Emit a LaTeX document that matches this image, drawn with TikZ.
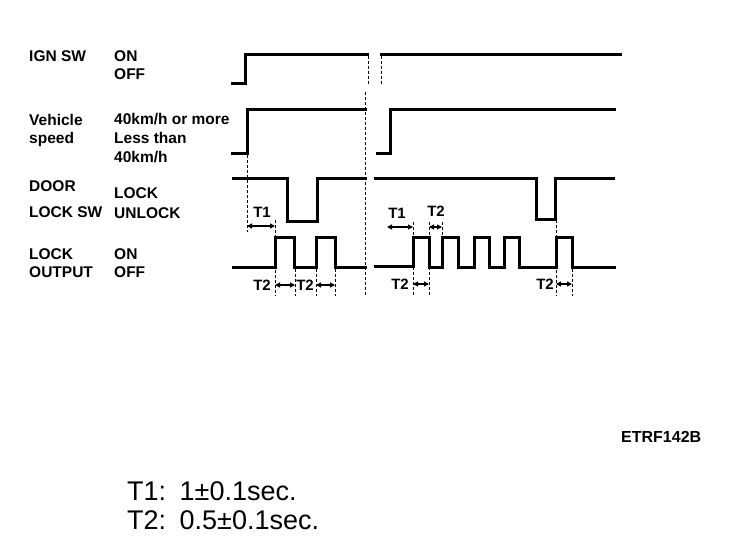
\documentclass[tikz,border=0pt]{standalone}
\usepackage{fontspec}
\setmainfont{Liberation Sans}
\usetikzlibrary{arrows.meta}
\begin{document}
\begin{tikzpicture}[x=1pt,y=-1pt,
  sig/.style={line width=3pt,line join=miter,line cap=rect},
  dotline/.style={line width=1pt,dash pattern=on 3pt off 2pt},
  tarrow/.style={line width=1.6pt,{Triangle[length=5pt,width=5pt]}-{Triangle[length=5pt,width=5pt]}},
  lbl/.style={anchor=west,inner sep=0pt,font=\fontsize{15.5}{17}\selectfont\bfseries},
  tl/.style={inner sep=0pt,font=\fontsize{15}{17}\selectfont\bfseries},
  note/.style={anchor=west,inner sep=0pt,font=\fontsize{27}{30}\selectfont}]
\useasboundingbox (0,0) rectangle (752,552);
% left labels
\node[lbl] (ign) at (29,56) {IGN SW};
\node[lbl] (ignon) at (114,56) {ON};
\node[lbl] (ignoff) at (114,74) {OFF};
\node[lbl] (veh) at (29,120) {Vehicle};
\node[lbl] (spd) at (29,139) {speed};
\node[lbl] (km1) at (114,119) {40km/h or more};
\node[lbl] (less) at (114,138) {Less than};
\node[lbl] (km2) at (114,157) {40km/h};
\node[lbl] (door) at (29,186) {DOOR};
\node[lbl] (locksw) at (29,212) {LOCK SW};
\node[lbl] (lock) at (114,193) {LOCK};
\node[lbl] (unlock) at (114,213) {UNLOCK};
\node[lbl] (lck) at (29,254) {LOCK};
\node[lbl] (outp) at (29,272) {OUTPUT};
\node[lbl] (outon) at (114,254) {ON};
\node[lbl] (outoff) at (114,272) {OFF};
% IGN SW
\draw[sig] (232,83) -- (245,83) -- (245,54) -- (367,54);
\draw[dotline] (368,56) -- (368,84);
\draw[dotline] (381,56) -- (381,84);
\draw[sig] (381,54) -- (620,54);
% Vehicle speed
\draw[sig] (232,153) -- (247,153) -- (247,109) -- (365,109);
\draw[sig] (377,153) -- (390,153) -- (390,109) -- (614,109);
% Door lock sw
\draw[sig] (233,178) -- (287,178) -- (287,221) -- (317,221) -- (317,178) -- (365,178);
\draw[sig] (375,178) -- (536,178) -- (536,219) -- (555,219) -- (555,178) -- (613,178);
% Lock output
\draw[sig] (233,267) -- (275,267) -- (275,237) -- (294,237) -- (294,267) -- (316,267)
  -- (316,237) -- (335,237) -- (335,267) -- (365,267);
\draw[sig] (375,266) -- (413,266) -- (413,237) -- (429,237) -- (429,267) -- (442,267)
  -- (442,237) -- (458,237) -- (458,267) -- (474,267) -- (474,237) -- (489,237)
  -- (489,267) -- (504,267) -- (504,237) -- (519,237) -- (519,267) -- (556,267)
  -- (556,237) -- (572,237) -- (572,267) -- (614,267);
% dotted guides
\draw[dotline] (365,92) -- (365,296);
\draw[dotline] (247,155) -- (247,232);
\draw[dotline] (275,220) -- (275,296);
\draw[dotline] (295,239) -- (295,296);
\draw[dotline] (316,239) -- (316,296);
\draw[dotline] (335,239) -- (335,296);
\draw[dotline] (413,222) -- (413,296);
\draw[dotline] (429,222) -- (429,296);
\draw[dotline] (442,222) -- (442,236);
\draw[dotline] (556,180) -- (556,296);
\draw[dotline] (572,239) -- (572,296);
% T labels and arrows
\node[tl] (t1a) at (262,212) {T1};
\coordinate (t1as) at (247,226); \coordinate (t1ae) at (275,226);
\draw[tarrow] (t1as) -- (t1ae);
\node[tl] (t1b) at (397,213) {T1};
\coordinate (t1bs) at (387,227); \coordinate (t1be) at (413,227);
\draw[tarrow] (t1bs) -- (t1be);
\node[tl] (t2c) at (436,211) {T2};
\coordinate (t2cs) at (429,227); \coordinate (t2ce) at (442,227);
\draw[tarrow] (t2cs) -- (t2ce);
\node[tl] (t2a) at (262,285) {T2};
\coordinate (t2as) at (275,285); \coordinate (t2ae) at (295,285);
\draw[tarrow] (t2as) -- (t2ae);
\node[tl] (t2b) at (305,285) {T2};
\coordinate (t2bs) at (316,285); \coordinate (t2be) at (335,285);
\draw[tarrow] (t2bs) -- (t2be);
\node[tl] (t2d) at (400,284) {T2};
\coordinate (t2ds) at (413,284); \coordinate (t2de) at (429,284);
\draw[tarrow] (t2ds) -- (t2de);
\node[tl] (t2e) at (545,284) {T2};
\coordinate (t2es) at (556,284); \coordinate (t2ee) at (572,284);
\draw[tarrow] (t2es) -- (t2ee);
% code
\node[anchor=west,inner sep=0pt,font=\fontsize{16}{18}\selectfont\bfseries] (code) at (621,437) {ETRF142B};
% notes
\node[note] (n1) at (127,491) {T1:\hspace{0.5em}1±0.1sec.};
\node[note] (n2) at (127,520) {T2:\hspace{0.5em}0.5±0.1sec.};
\end{tikzpicture}
\end{document}
